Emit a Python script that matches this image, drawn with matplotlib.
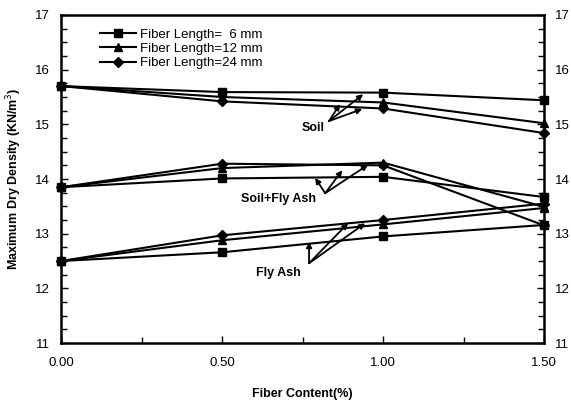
import matplotlib.pyplot as plt
from matplotlib.ticker import MultipleLocator, FormatStrFormatter

plt.rcParams['font.family'] = ['Liberation Sans', 'DejaVu Sans']

fiber = [0.0, 0.5, 1.0, 1.5]

# soil
soil_6 = [15.70, 15.59, 15.58, 15.44]
soil_12 = [15.70, 15.50, 15.40, 15.02]
soil_24 = [15.70, 15.42, 15.29, 14.84]
# soil + fly ash
sfa_6 = [13.85, 14.01, 14.04, 13.67]
sfa_12 = [13.85, 14.20, 14.30, 13.49]
sfa_24 = [13.85, 14.28, 14.25, 13.15]
# fly ash
fa_6 = [12.50, 12.66, 12.95, 13.16]
fa_12 = [12.50, 12.88, 13.17, 13.47]
fa_24 = [12.50, 12.97, 13.25, 13.55]

labels = ['Fiber Length=  6 mm', 'Fiber Length=12 mm', 'Fiber Length=24 mm']
markers = ['s', '^', 'D']

fig = plt.figure(figsize=(5.71, 4.05), dpi=100)
ax = fig.add_axes([0.107, 0.153, 0.846, 0.810])

groups = [(soil_6, sfa_6, fa_6), (soil_12, sfa_12, fa_12), (soil_24, sfa_24, fa_24)]
for (s, sf, f), lab, m in zip(groups, labels, markers):
    ms = 5 if m == 'D' else 6
    ax.plot(fiber, s, color='black', lw=1.5, marker=m, ms=ms, label=lab, clip_on=False, zorder=3)
    ax.plot(fiber, sf, color='black', lw=1.5, marker=m, ms=ms, clip_on=False, zorder=3)
    ax.plot(fiber, f, color='black', lw=1.5, marker=m, ms=ms, clip_on=False, zorder=3)

# group labels with arrows
notes = [
    ('Soil', (0.783, 14.93), (0.832, 15.06), [(0.866, 15.37), (0.938, 15.55), (0.935, 15.28)]),
    ('Soil+Fly Ash', (0.674, 13.63), (0.820, 13.74), [(0.789, 14.02), (0.873, 14.16), (0.953, 14.26)]),
    ('Fly Ash', (0.674, 12.28), (0.770, 12.46), [(0.770, 12.85), (0.891, 13.19), (0.944, 13.19)]),
]
for txt, tpos, origin, tips in notes:
    ax.text(tpos[0], tpos[1], txt, ha='center', va='center', fontsize=9, fontweight='bold')
    for tip in tips:
        ax.annotate('', xy=tip, xytext=origin,
                    arrowprops=dict(arrowstyle='-|>', color='black', lw=1.3,
                                    mutation_scale=8, shrinkA=0, shrinkB=0))

ax.set_xlim(0, 1.5)
ax.set_ylim(11, 17)
ax.xaxis.set_major_locator(MultipleLocator(0.5))
ax.xaxis.set_minor_locator(MultipleLocator(0.25))
ax.xaxis.set_major_formatter(FormatStrFormatter('%.2f'))
ax.yaxis.set_major_locator(MultipleLocator(1))
ax.yaxis.set_minor_locator(MultipleLocator(0.25))
ax.tick_params(which='both', direction='in', left=True, right=True, labelright=True,
               top=False, labelsize=9.5, width=1, pad=8)
ax.tick_params(which='major', length=5)
ax.tick_params(which='minor', length=4)
ax.tick_params(axis='x', which='both', pad=10)
for sp in ax.spines.values():
    sp.set_linewidth(1.8)

ax.set_xlabel('Fiber Content(%)', fontsize=9, fontweight='bold', labelpad=14)
ax.set_ylabel('Maximum Dry Density (KN/m$^3$)', fontsize=9, fontweight='bold', labelpad=8)

leg = ax.legend(loc='upper left', bbox_to_anchor=(0.07, 0.975), frameon=False, fontsize=9.5,
                handlelength=2.7, handletextpad=0.3, labelspacing=0.15, borderaxespad=0)

plt.savefig('out.png', dpi=100)
